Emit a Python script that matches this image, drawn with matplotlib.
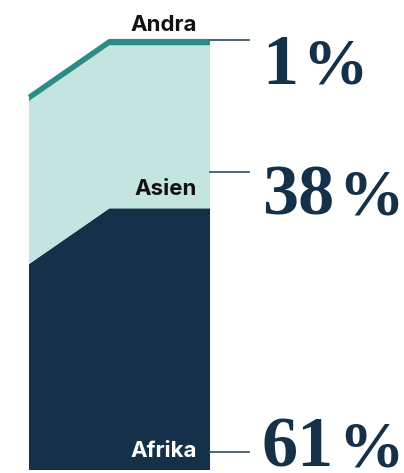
import matplotlib
matplotlib.use("Agg")
import matplotlib.pyplot as plt

# data: share per region, three steps along the x axis
steps = [0, 0.8, 1.8]
afrika = [48, 61, 61]
asien = [38, 38, 38]
andra = [1, 1, 1]
regions = ["Afrika", "Asien", "Andra"]
shares = ["61", "38", "1"]

navy = "#15314a"
light = "#c4e4df"
teal = "#2b8c87"
leader = "#3f5a6b"

fig = plt.figure(figsize=(4.04, 4.73), dpi=100)
ax = fig.add_axes([0, 0, 1, 1])
ax.set_xlim(-0.288, 3.728)
ax.set_ylim(-0.7, 109.56)
ax.axis("off")

ax.stackplot(steps, afrika, asien, andra, colors=[navy, light, teal], linewidth=0)
top = [a + b + c for a, b, c in zip(afrika, asien, andra)]
ax.plot(steps, top, color=teal, lw=3, solid_capstyle="butt")

lab = dict(family=["Inter", "DejaVu Sans"], weight="bold", fontsize=16, ha="right", va="baseline")
ax.text(1.67, 102.3, regions[2], color="#111111", **lab)
ax.text(1.67, 64.1, regions[1], color="#111111", **lab)
ax.text(1.67, 3.0, regions[0], color="white", **lab)

# leader lines + big percentages
for y in [100.2, 69.5, 4.2]:
    ax.plot([1.8, 2.187], [y, y], color=leader, lw=1.3, clip_on=False)

big = dict(family="Liberation Serif", weight="bold", color=navy, va="baseline", ha="left")
nums = []
for s, y in zip(shares, [0.9, 59.5, 90.0]):
    nums.append((ax.text(2.316, y, s, fontsize=52, **big), y))

fig.canvas.draw()
r = fig.canvas.get_renderer()
for t, y in nums:
    x1 = t.get_window_extent(r).x1 + 4
    xd = ax.transData.inverted().transform((x1, 0))[0]
    ax.text(xd, y, "%", fontsize=47, **big)

fig.savefig("out.png", dpi=100)
